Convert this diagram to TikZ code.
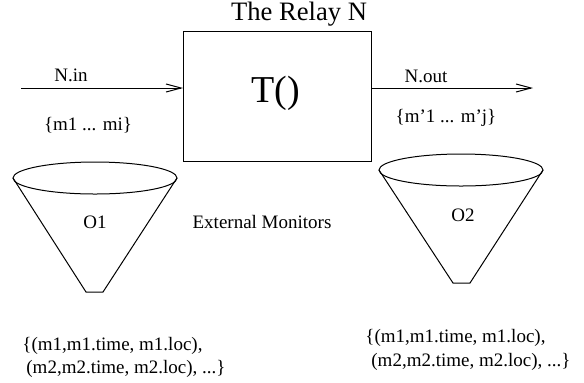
\documentclass[tikz,border=0pt]{standalone}
\usepackage{fontspec}
\setmainfont{Liberation Serif}
\usetikzlibrary{arrows.meta}

\tikzset{
  lbl/.style={font=\fontsize{9.5}{11}\selectfont, inner sep=0pt},
  flow/.style={-{Straight Barb[length=7.5pt,width=4pt]}, line width=0.5pt},
  cone/.style={line width=0.5pt}
}

\begin{document}
\begin{tikzpicture}[x=0.5pt,y=-0.5pt]
	\useasboundingbox (0,0) rectangle (584,382);
	% The relay box
	\node[draw, line width=0.5pt, minimum width=94pt, minimum height=65pt, inner sep=0pt] (relay) at (277.5,96) {};
	\node[inner sep=0pt, font=\fontsize{19}{22}\selectfont] (func) at (276,93) {T()};
	\node[inner sep=0pt, font=\fontsize{13.3}{16}\selectfont] (title) at (299,14) {The Relay N};

	% incoming and outgoing messages
	\coordinate (src) at (21,88);
	\coordinate (dst) at (533,88);
	\draw[flow] (src) -- (src -| relay.west);
	\draw[flow] (dst -| relay.east) -- (dst);
	\node[lbl] (nin) at (71,75) {N.in};
	\node[lbl] (min) at (88,125) {\{m1 ... mi\}};
	\node[lbl] (nout) at (426,76) {N.out};
	\node[lbl] (mout) at (446,118) {\{m'1 ... m'j\}};

	% Monitor O1
	\draw[cone] (95,178) ellipse [x radius=82, y radius=16];
	\draw[cone] (13,178) -- (86,292) -- (103,292) -- (177,178);
	\node[lbl] (oone) at (95,222) {O1};

	% Monitor O2
	\draw[cone] (461,170) ellipse [x radius=82, y radius=16];
	\draw[cone] (379,170) -- (453,283) -- (470,283) -- (543,170);
	\node[lbl] (otwo) at (463,215) {O2};

	\node[lbl] (ext) at (262,222) {External Monitors};

	% recorded tuples
	\node[lbl, anchor=west] (lista) at (22,346) {\{(m1,m1.time, m1.loc),};
	\node[lbl, anchor=west] (listb) at (26,369) {(m2,m2.time, m2.loc), ...\}};
	\node[lbl, anchor=west] (listc) at (365,338) {\{(m1,m1.time, m1.loc),};
	\node[lbl, anchor=west] (listd) at (371,362) {(m2,m2.time, m2.loc), ...\}};
\end{tikzpicture}
\end{document}
